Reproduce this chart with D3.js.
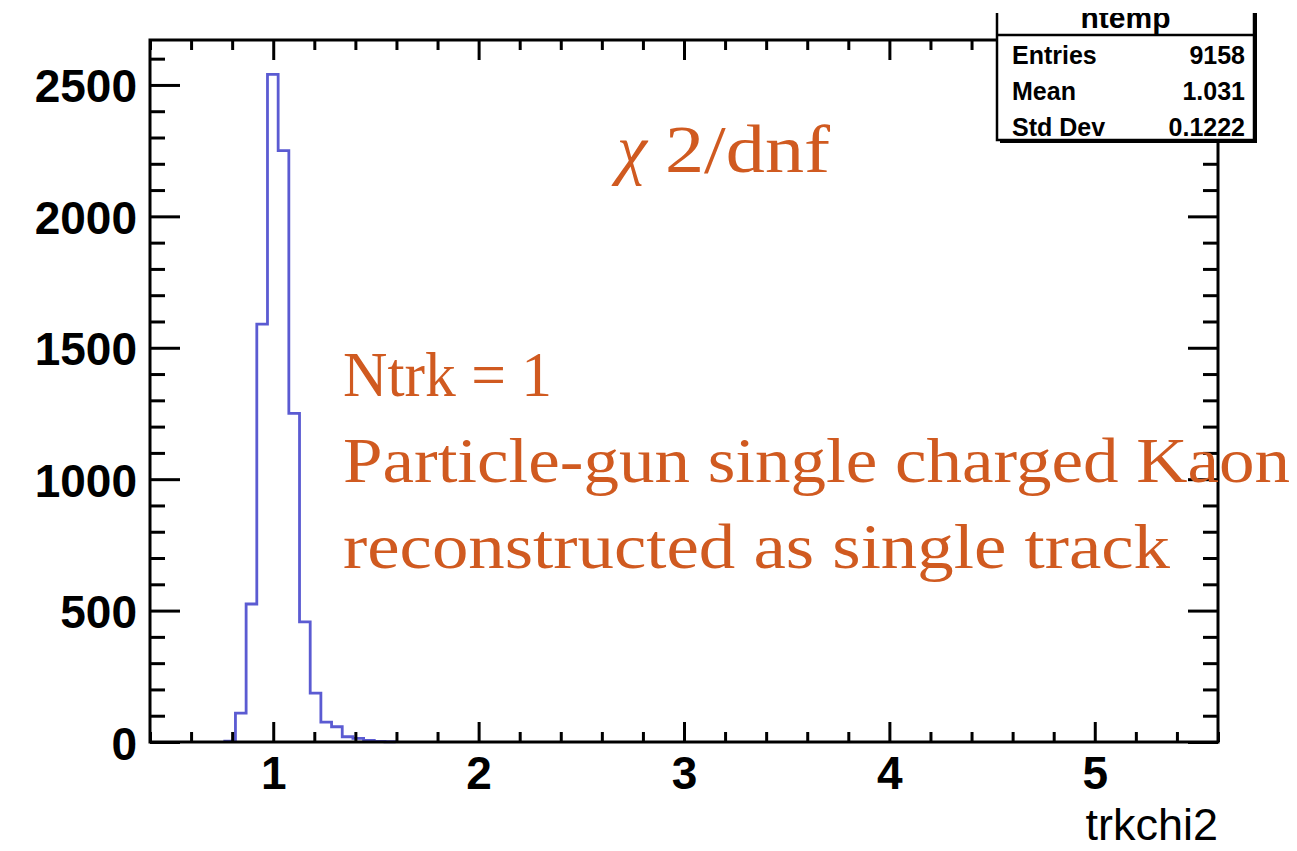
<!DOCTYPE html>
<html>
<head>
<meta charset="utf-8">
<script src="https://cdn.jsdelivr.net/npm/d3@7"></script>
<style>
	body { margin: 0; background: #fff; }
	svg { display: block; }
	.axis line { stroke: #000; stroke-width: 3; }
	.axis path { display: none; }
	.axis text { fill: #000; font-family: "Liberation Sans", Arial, sans-serif; font-weight: bold; font-size: 46px; }
	.note { fill: #d05a20; font-family: "Liberation Serif", "Times New Roman", serif; }
	.stat { font-family: "Liberation Sans", Arial, sans-serif; font-weight: bold; font-size: 25px; fill: #000; }
</style>
</head>
<body>
<div id="chart"></div>
<script>

// histogram definition (ROOT htemp: 100 bins over the axis range)
var xRange = [0.4, 5.6];
var nBins = 100;
var firstBin = 7;		// index of first filled bin
var counts = [3, 110, 525, 1590, 2540, 2250, 1250, 457, 186, 76, 58, 20, 14, 6, 2, 1];
var yMax = 2671;

// tick labels
var xMajor = [1, 2, 3, 4, 5];
var yMajor = [0, 500, 1000, 1500, 2000, 2500];

// stats box
var histName = "htemp";
var statNames = ["Entries", "Mean", "Std Dev"];
var statValues = ["9158", "1.031", "0.1222"];

var xTitle = "trkchi2";

// annotations
var noteLines = ["Ntrk = 1", "Particle-gun single charged Kaon", "reconstructed as single track"];
var noteWidths = [209, 947, 827];


var W = 1297, H = 851;
var margin = { top: 40, right: 79, bottom: 109, left: 150 };

var svg = d3.select("#chart").append("svg")
	.attr("width", W)
	.attr("height", H);

svg.append("rect").attr("width", W).attr("height", H).attr("fill", "#fff");

var xScale = d3.scaleLinear()
	.domain(xRange)
	.range([margin.left, W - margin.right]);

var yScale = d3.scaleLinear()
	.domain([0, yMax])
	.range([H - margin.bottom, margin.top]);

var x0 = xScale.range()[0], x1 = xScale.range()[1];
var y0 = yScale.range()[0], y1 = yScale.range()[1];


// HISTOGRAM OUTLINE (steps)
var binW = (xRange[1] - xRange[0]) / nBins;
var pts = [[xRange[0] + firstBin * binW, 0]];
counts.forEach(function(c, i){
	var lo = xRange[0] + (firstBin + i) * binW;
	pts.push([lo, c]);
	pts.push([lo + binW, c]);
});
pts.push([xRange[0] + (firstBin + counts.length) * binW, 0]);

var line = d3.line()
	.x(function(d){ return xScale(d[0]); })
	.y(function(d){ return yScale(d[1]); });

svg.append("path")
	.datum(pts)
	.attr("d", line)
	.attr("fill", "none")
	.attr("stroke", "#5b5bd2")
	.attr("stroke-width", 2.8);


// AXES (ticks on all four sides, pointing inwards)
var xMinor = d3.range(0, 27).map(function(i){ return +(xRange[0] + i * 0.2).toFixed(2); })
	.filter(function(v){ return xMajor.indexOf(v) < 0; });
var yMinor = d3.range(0, 2700, 100).filter(function(v){ return yMajor.indexOf(v) < 0; });

function addAxis(axis, tx, ty){
	return svg.append("g")
		.attr("class", "axis")
		.attr("transform", "translate(" + tx + "," + ty + ")")
		.call(axis)
		.attr("font-size", null)
		.attr("font-family", null);
}

// bottom
addAxis(d3.axisBottom(xScale).tickValues(xMinor).tickSize(-10).tickFormat(""), 0, y0);
addAxis(d3.axisBottom(xScale).tickValues(xMajor).tickSize(-20).tickPadding(14).tickFormat(d3.format("d")), 0, y0);
// top
addAxis(d3.axisTop(xScale).tickValues(xMinor).tickSize(-10).tickFormat(""), 0, y1);
addAxis(d3.axisTop(xScale).tickValues(xMajor).tickSize(-20).tickFormat(""), 0, y1);
// left
addAxis(d3.axisLeft(yScale).tickValues(yMinor).tickSize(-15).tickFormat(""), x0, 0);
addAxis(d3.axisLeft(yScale).tickValues(yMajor).tickSize(-30).tickPadding(13).tickFormat(d3.format("d")), x0, 0)
	.selectAll("text").attr("dy", "0.37em");
// right
addAxis(d3.axisRight(yScale).tickValues(yMinor).tickSize(-15).tickFormat(""), x1, 0);
addAxis(d3.axisRight(yScale).tickValues(yMajor).tickSize(-30).tickFormat(""), x1, 0);

// frame
svg.append("rect")
	.attr("x", x0).attr("y", y1)
	.attr("width", x1 - x0).attr("height", y0 - y1)
	.attr("fill", "none")
	.attr("stroke", "#000")
	.attr("stroke-width", 3);

// x axis title
svg.append("text")
	.attr("x", x1)
	.attr("y", 840)
	.attr("text-anchor", "end")
	.style("font-family", "'Liberation Sans', Arial, sans-serif")
	.style("font-size", "45px")
	.text(xTitle);


// STATS BOX
var box = { x: 997, y: -8, w: 257, h: 148, row: 36 };
svg.append("rect")
	.attr("x", box.x + 3).attr("y", box.y + 3)
	.attr("width", box.w).attr("height", box.h)
	.attr("fill", "#000");
svg.append("rect")
	.attr("x", box.x).attr("y", box.y)
	.attr("width", box.w).attr("height", box.h)
	.attr("fill", "#fff")
	.attr("stroke", "#000")
	.attr("stroke-width", 2.5);
svg.append("line")
	.attr("x1", box.x).attr("x2", box.x + box.w)
	.attr("y1", 35).attr("y2", 35)
	.attr("stroke", "#000").attr("stroke-width", 2.5);
svg.append("text")
	.attr("class", "stat")
	.attr("x", box.x + box.w / 2)
	.attr("y", 28)
	.attr("text-anchor", "middle")
	.style("font-size", "30px")
	.text(histName);

var rows = svg.selectAll("g.statrow")
	.data(statNames).enter()
	.append("g").attr("class", "statrow");
rows.append("text")
	.attr("class", "stat")
	.attr("x", box.x + 15)
	.attr("y", function(d, i){ return 64 + i * box.row; })
	.text(function(d){ return d; });
rows.append("text")
	.attr("class", "stat")
	.attr("x", box.x + box.w - 9)
	.attr("y", function(d, i){ return 64 + i * box.row; })
	.attr("text-anchor", "end")
	.text(function(d, i){ return statValues[i]; });

// top strip of the box is cut off in the original picture
svg.append("rect")
	.attr("x", 990).attr("y", 0)
	.attr("width", W - 990).attr("height", 13)
	.attr("fill", "#fff");


// ANNOTATIONS
var chi = svg.append("g");
chi.append("text")
	.attr("class", "note")
	.attr("x", 617).attr("y", 172)
	.style("font-size", "68px")
	.style("font-style", "italic")
	.text("\u03c7");
chi.append("text")
	.attr("class", "note")
	.attr("x", 665).attr("y", 172)
	.attr("textLength", 165)
	.attr("lengthAdjust", "spacingAndGlyphs")
	.style("font-size", "68px")
	.text("2/dnf");

svg.selectAll("text.line")
	.data(noteLines).enter()
	.append("text")
	.attr("class", "note line")
	.attr("x", 343)
	.attr("y", function(d, i){ return 396 + i * 86; })
	.attr("textLength", function(d, i){ return noteWidths[i]; })
	.attr("lengthAdjust", "spacingAndGlyphs")
	.style("font-size", "63px")
	.text(function(d){ return d; });

</script>
</body>
</html>
